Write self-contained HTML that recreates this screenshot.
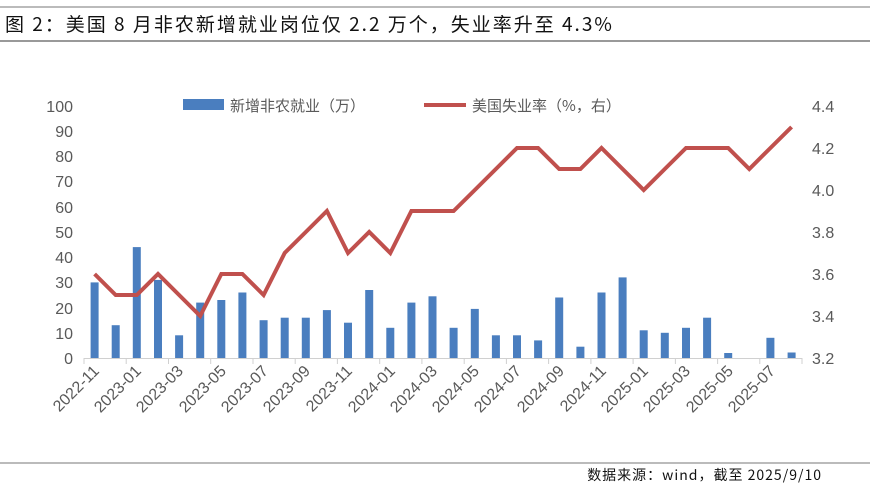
<!DOCTYPE html>
<html><head><meta charset="utf-8"><style>
body{margin:0;background:#fff;}
svg{display:block;font-family:"Liberation Sans","Noto Sans CJK SC",sans-serif;}
</style></head><body>
<svg width="870" height="484" viewBox="0 0 870 484" xmlns="http://www.w3.org/2000/svg">
<line x1="0" y1="7" x2="870" y2="7" stroke="#777" stroke-width="1"/>
<line x1="0" y1="41" x2="870" y2="41" stroke="#999" stroke-width="2"/>
<text x="5" y="31" font-size="19" letter-spacing="2" fill="#111" font-family="'Noto Sans CJK SC',sans-serif">图 2：美国 8 月非农新增就业岗位仅 2.2 万个，失业率升至 4.3%</text>
<line x1="0" y1="463" x2="870" y2="463" stroke="#777" stroke-width="1"/>
<text x="822" y="480" font-size="14" letter-spacing="1" fill="#111" text-anchor="end" font-family="'Noto Sans CJK SC',sans-serif">数据来源：wind，截至 2025/9/10</text>

<!-- legend -->
<rect x="183" y="99" width="41" height="11" fill="#4a7ebf"/>
<text x="230" y="111" font-size="15" fill="#595959" font-family="'Noto Sans CJK SC',sans-serif">新增非农就业（万）</text>
<line x1="424" y1="105" x2="466" y2="105" stroke="#c0504d" stroke-width="4"/>
<text x="472" y="111" font-size="15" fill="#595959" font-family="'Noto Sans CJK SC',sans-serif">美国失业率（%，右）</text>

<!-- left axis -->
<g font-size="16" fill="#595959" text-anchor="end">
<text x="73" y="364">0</text><text x="73" y="339">10</text><text x="73" y="314">20</text><text x="73" y="288">30</text><text x="73" y="263">40</text><text x="73" y="238">50</text><text x="73" y="213">60</text><text x="73" y="187">70</text><text x="73" y="162">80</text><text x="73" y="137">90</text><text x="73" y="112">100</text>
</g>
<g font-size="16" fill="#595959">
<text x="812" y="364">3.2</text><text x="812" y="322">3.4</text><text x="812" y="280">3.6</text><text x="812" y="238">3.8</text><text x="812" y="196">4.0</text><text x="812" y="154">4.2</text><text x="812" y="112">4.4</text>
</g>

<!-- bars -->
<g fill="#4a7ebf">
<rect x="90.6" y="282.4" width="8" height="75.6"/>
<rect x="111.7" y="325.2" width="8" height="32.8"/>
<rect x="132.8" y="247.1" width="8" height="110.9"/>
<rect x="154" y="279.9" width="8" height="78.1"/>
<rect x="175.1" y="335.3" width="8" height="22.7"/>
<rect x="196.2" y="302.6" width="8" height="55.4"/>
<rect x="217.3" y="300" width="8" height="58"/>
<rect x="238.4" y="292.5" width="8" height="65.5"/>
<rect x="259.6" y="320.2" width="8" height="37.8"/>
<rect x="280.7" y="317.7" width="8" height="40.3"/>
<rect x="301.8" y="317.7" width="8" height="40.3"/>
<rect x="322.9" y="310.1" width="8" height="47.9"/>
<rect x="344" y="322.7" width="8" height="35.3"/>
<rect x="365.2" y="290" width="8" height="68"/>
<rect x="386.3" y="327.8" width="8" height="30.2"/>
<rect x="407.4" y="302.6" width="8" height="55.4"/>
<rect x="428.5" y="296.3" width="8" height="61.7"/>
<rect x="449.6" y="327.8" width="8" height="30.2"/>
<rect x="470.8" y="308.9" width="8" height="49.1"/>
<rect x="491.9" y="335.3" width="8" height="22.7"/>
<rect x="513" y="335.3" width="8" height="22.7"/>
<rect x="534.1" y="340.4" width="8" height="17.6"/>
<rect x="555.2" y="297.5" width="8" height="60.5"/>
<rect x="576.4" y="346.7" width="8" height="11.3"/>
<rect x="597.5" y="292.5" width="8" height="65.5"/>
<rect x="618.6" y="277.4" width="8" height="80.6"/>
<rect x="639.7" y="330.3" width="8" height="27.7"/>
<rect x="660.8" y="332.8" width="8" height="25.2"/>
<rect x="682" y="327.8" width="8" height="30.2"/>
<rect x="703.1" y="317.7" width="8" height="40.3"/>
<rect x="724.2" y="353" width="8" height="5"/>
<rect x="766.4" y="337.8" width="8" height="20.2"/>
<rect x="787.6" y="352.5" width="8" height="5.5"/>
</g>

<!-- x axis -->
<line x1="84" y1="358.5" x2="802" y2="358.5" stroke="#d0d0d0" stroke-width="1"/>
<g stroke="#d0d0d0" stroke-width="1">
<line x1="84" y1="358" x2="84" y2="364"/><line x1="126.2" y1="358" x2="126.2" y2="364"/><line x1="168.5" y1="358" x2="168.5" y2="364"/><line x1="210.7" y1="358" x2="210.7" y2="364"/><line x1="253" y1="358" x2="253" y2="364"/><line x1="295.2" y1="358" x2="295.2" y2="364"/><line x1="337.4" y1="358" x2="337.4" y2="364"/><line x1="379.7" y1="358" x2="379.7" y2="364"/><line x1="421.9" y1="358" x2="421.9" y2="364"/><line x1="464.2" y1="358" x2="464.2" y2="364"/><line x1="506.4" y1="358" x2="506.4" y2="364"/><line x1="548.6" y1="358" x2="548.6" y2="364"/><line x1="590.9" y1="358" x2="590.9" y2="364"/><line x1="633.1" y1="358" x2="633.1" y2="364"/><line x1="675.4" y1="358" x2="675.4" y2="364"/><line x1="717.6" y1="358" x2="717.6" y2="364"/><line x1="759.8" y1="358" x2="759.8" y2="364"/><line x1="802" y1="358" x2="802" y2="364"/>
</g>

<!-- line -->
<polyline fill="none" stroke="#c0504d" stroke-width="4" stroke-linejoin="miter" points="94.6,274 115.7,295 136.8,295 158,274 179.1,295 200.2,316 221.3,274 242.4,274 263.6,295 284.7,253 305.8,232 326.9,211 348,253 369.2,232 390.3,253 411.4,211 432.5,211 453.6,211 474.8,190 495.9,169 517,148 538.1,148 559.2,169 580.4,169 601.5,148 622.6,169 643.7,190 664.8,169 686,148 707.1,148 728.2,148 749.3,169 770.4,148 791.6,127"/>

<!-- x labels -->
<g font-size="16" fill="#595959" text-anchor="end">
<text transform="translate(100,372) rotate(-45)">2022-11</text>
<text transform="translate(142,372) rotate(-45)">2023-01</text>
<text transform="translate(184,372) rotate(-45)">2023-03</text>
<text transform="translate(227,372) rotate(-45)">2023-05</text>
<text transform="translate(269,372) rotate(-45)">2023-07</text>
<text transform="translate(311,372) rotate(-45)">2023-09</text>
<text transform="translate(353,372) rotate(-45)">2023-11</text>
<text transform="translate(396,372) rotate(-45)">2024-01</text>
<text transform="translate(438,372) rotate(-45)">2024-03</text>
<text transform="translate(480,372) rotate(-45)">2024-05</text>
<text transform="translate(522,372) rotate(-45)">2024-07</text>
<text transform="translate(565,372) rotate(-45)">2024-09</text>
<text transform="translate(607,372) rotate(-45)">2024-11</text>
<text transform="translate(649,372) rotate(-45)">2025-01</text>
<text transform="translate(691,372) rotate(-45)">2025-03</text>
<text transform="translate(734,372) rotate(-45)">2025-05</text>
<text transform="translate(776,372) rotate(-45)">2025-07</text>
</g>
</svg>
</body></html>
